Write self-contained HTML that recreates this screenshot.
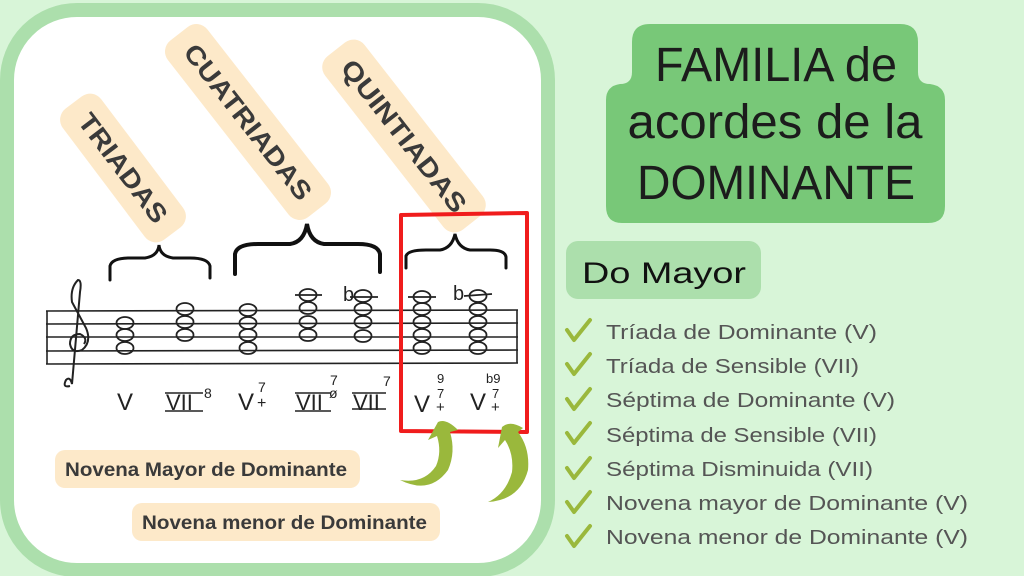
<!DOCTYPE html>
<html><head><meta charset="utf-8"><style>
html,body{margin:0;padding:0;background:#d8f5d8;}
svg{display:block}
</style></head><body>
<svg width="1024" height="576" viewBox="0 0 1024 576" xmlns="http://www.w3.org/2000/svg">
<rect width="1024" height="576" fill="#d8f5d8"/>
<!-- panel -->
<rect x="7" y="10" width="541" height="560" rx="70" fill="#ffffff" stroke="#acdfac" stroke-width="14"/>

<!-- rotated tags -->
<g font-family="Liberation Sans, sans-serif" font-weight="bold" fill="#333" text-anchor="middle">
 <g transform="translate(123,168) rotate(53)">
  <rect x="-82" y="-24" width="164" height="48" rx="14" fill="#fde9c9"/>
  <text x="0" y="9" font-size="26" textLength="130" lengthAdjust="spacingAndGlyphs" fill="#3a3a3a">TRIADAS</text>
 </g>
 <g transform="translate(248,122) rotate(52)">
  <rect x="-112" y="-25" width="224" height="50" rx="14" fill="#fde9c9"/>
  <text x="0" y="9" font-size="26" textLength="190" lengthAdjust="spacingAndGlyphs" fill="#3a3a3a">CUATRIADAS</text>
 </g>
 <g transform="translate(404,136) rotate(52)">
  <rect x="-110" y="-25" width="220" height="50" rx="14" fill="#fde9c9"/>
  <text x="0" y="9" font-size="26" textLength="186" lengthAdjust="spacingAndGlyphs" fill="#3a3a3a">QUINTIADAS</text>
 </g>
</g>

<!-- braces -->
<g fill="none" stroke="#111" stroke-linecap="round">
 <path d="M110,280 L110,266 Q112,258 130,258 L145,258 Q158,256 159,245 Q160,256 173,258 L190,258 Q208,258 210,266 L210,278" stroke-width="3"/>
 <path d="M235,274 L235,254 Q237,244 258,244 L290,244 Q304,242 307,224 Q310,242 324,244 L358,244 Q378,244 380,254 L380,272" stroke-width="4"/>
 <path d="M406,268 L406,256 Q408,250 426,250 L440,250 Q452,248 455,234 Q458,248 470,250 L490,250 Q505,250 506,257 L506,268" stroke-width="3"/>
</g>

<!-- staff -->
<g stroke="#222" stroke-width="1.6">
 <line x1="46" y1="311" x2="518" y2="310"/>
 <line x1="46" y1="324" x2="518" y2="323"/>
 <line x1="46" y1="337" x2="518" y2="337"/>
 <line x1="46" y1="351" x2="518" y2="350"/>
 <line x1="46" y1="364" x2="518" y2="363"/>
 <line x1="47" y1="311" x2="47" y2="364"/>
 <line x1="517" y1="310" x2="517" y2="363"/>
</g>
<!-- treble clef -->
<path d="M70,386 Q62,388 66,380 Q70,376 72,384 L80,292 Q82,280 78,280 Q70,288 72,302 L86,328 Q92,342 82,350 Q72,354 70,344 Q70,334 80,334 Q88,338 84,344" fill="none" stroke="#222" stroke-width="2"/>

<!-- notes -->
<g fill="none" stroke="#222" stroke-width="1.8">
 <ellipse cx="125" cy="323" rx="8.5" ry="6"/><ellipse cx="125" cy="335" rx="8.5" ry="6"/><ellipse cx="125" cy="348" rx="8.5" ry="6"/>
 <ellipse cx="185" cy="309" rx="8.5" ry="6"/><ellipse cx="185" cy="322" rx="8.5" ry="6"/><ellipse cx="185" cy="335" rx="8.5" ry="6"/>
 <ellipse cx="248" cy="310" rx="8.5" ry="6"/><ellipse cx="248" cy="323" rx="8.5" ry="6"/><ellipse cx="248" cy="335" rx="8.5" ry="6"/><ellipse cx="248" cy="348" rx="8.5" ry="6"/>
 <ellipse cx="308" cy="295" rx="8.5" ry="6"/><ellipse cx="308" cy="308" rx="8.5" ry="6"/><ellipse cx="308" cy="322" rx="8.5" ry="6"/><ellipse cx="308" cy="335" rx="8.5" ry="6"/>
 <line x1="295" y1="295" x2="322" y2="295"/>
 <ellipse cx="363" cy="296" rx="8.5" ry="6"/><ellipse cx="363" cy="309" rx="8.5" ry="6"/><ellipse cx="363" cy="322" rx="8.5" ry="6"/><ellipse cx="363" cy="336" rx="8.5" ry="6"/>
 <line x1="350" y1="297" x2="378" y2="297"/>
 <ellipse cx="422" cy="297" rx="8.5" ry="6"/><ellipse cx="422" cy="309" rx="8.5" ry="6"/><ellipse cx="422" cy="322" rx="8.5" ry="6"/><ellipse cx="422" cy="335" rx="8.5" ry="6"/><ellipse cx="422" cy="348" rx="8.5" ry="6"/>
 <line x1="408" y1="297" x2="436" y2="297"/>
 <ellipse cx="478" cy="296" rx="8.5" ry="6"/><ellipse cx="478" cy="309" rx="8.5" ry="6"/><ellipse cx="478" cy="322" rx="8.5" ry="6"/><ellipse cx="478" cy="335" rx="8.5" ry="6"/><ellipse cx="478" cy="348" rx="8.5" ry="6"/>
 <line x1="464" y1="296" x2="492" y2="294"/>
</g>
<g font-family="Liberation Sans, sans-serif" fill="#222">
 <text x="343" y="301" font-size="20">b</text>
 <text x="453" y="300" font-size="20">b</text>
 <text x="125" y="410" font-size="24" text-anchor="middle">V</text>
 <text x="166" y="410" font-size="22">VII</text><line x1="165" y1="411" x2="203" y2="411" stroke="#222" stroke-width="1.5"/><line x1="165" y1="393" x2="203" y2="393" stroke="#222" stroke-width="1.5"/>
 <text x="204" y="398" font-size="14">8</text>
 <text x="238" y="410" font-size="24">V</text><text x="258" y="392" font-size="14">7</text><text x="257" y="408" font-size="16">+</text>
 <text x="296" y="410" font-size="22">VII</text><line x1="295" y1="411" x2="331" y2="411" stroke="#222" stroke-width="1.5"/><line x1="295" y1="393" x2="331" y2="393" stroke="#222" stroke-width="1.5"/>
 <text x="330" y="385" font-size="14">7</text><text x="329" y="398" font-size="14">ø</text>
 <text x="353" y="410" font-size="22">VII</text><line x1="352" y1="409" x2="386" y2="409" stroke="#222" stroke-width="1.5"/><line x1="352" y1="393" x2="386" y2="393" stroke="#222" stroke-width="1.5"/>
 <text x="383" y="386" font-size="14">7</text>
 <text x="414" y="412" font-size="24">V</text><text x="437" y="383" font-size="13">9</text><text x="437" y="398" font-size="13">7</text><text x="436" y="412" font-size="15">+</text>
 <text x="470" y="410" font-size="24">V</text><text x="486" y="383" font-size="13">b9</text><text x="492" y="398" font-size="13">7</text><text x="491" y="412" font-size="15">+</text>
</g>

<!-- red box -->
<path d="M401,215 L527,213 L527,432 L401,431 Z" fill="none" stroke="#f01c1c" stroke-width="4" stroke-linejoin="round"/>

<!-- bottom tags -->
<rect x="55" y="450" width="305" height="38" rx="10" fill="#fde9c9"/>
<text x="65" y="476" font-family="Liberation Sans, sans-serif" font-weight="bold" font-size="19" fill="#3a3a3a" textLength="282" lengthAdjust="spacingAndGlyphs">Novena Mayor de Dominante</text>
<rect x="132" y="503" width="308" height="38" rx="10" fill="#fde9c9"/>
<text x="142" y="529" font-family="Liberation Sans, sans-serif" font-weight="bold" font-size="19" fill="#3a3a3a" textLength="285" lengthAdjust="spacingAndGlyphs">Novena menor de Dominante</text>

<!-- green arrows -->
<g fill="#9ab83c">
 <path d="M400,480 Q430,495 448,470 Q456,452 450,432 L458,430 Q446,418 438,422 L428,440 L437,436 Q442,452 436,466 Q424,484 400,480 Z"/>
 <path d="M488,502 Q520,500 528,470 Q530,448 518,432 L523,428 Q510,420 502,427 L498,448 L505,440 Q514,454 512,472 Q506,494 488,502 Z"/>
</g>

<!-- title box -->
<path d="M650,24 L900,24 Q918,24 918,42 L918,72 Q918,84 930,84 Q945,86 945,100 L945,206 Q945,223 928,223 L622,223 Q606,223 606,206 L606,100 Q606,86 620,84 Q632,84 632,72 L632,42 Q632,24 650,24 Z" fill="#78c878"/>
<g font-family="Liberation Sans, sans-serif" fill="#1c1c1c" text-anchor="middle">
 <text x="776" y="81" font-size="48" textLength="242" lengthAdjust="spacingAndGlyphs">FAMILIA de</text>
 <text x="775" y="138" font-size="48" textLength="295" lengthAdjust="spacingAndGlyphs">acordes de la</text>
 <text x="776" y="199" font-size="48" textLength="278" lengthAdjust="spacingAndGlyphs">DOMINANTE</text>
</g>
<rect x="566" y="241" width="195" height="58" rx="12" fill="#acdfac"/>
<text x="582" y="283" font-family="Liberation Sans, sans-serif" font-size="30" fill="#111" textLength="164" lengthAdjust="spacingAndGlyphs">Do Mayor</text>

<!-- list -->
<g fill="none" stroke="#9ab83c" stroke-width="4" stroke-linecap="round" stroke-linejoin="round">
 <path d="M567,330 L574,340 L590,320"/>
 <path d="M567,364 L574,374 L590,354"/>
 <path d="M567,399 L574,409 L590,389"/>
 <path d="M567,433 L574,443 L590,423"/>
 <path d="M567,468 L574,478 L590,458"/>
 <path d="M567,502 L574,512 L590,492"/>
 <path d="M567,536 L574,546 L590,526"/>
</g>
<g font-family="Liberation Sans, sans-serif" font-size="20" fill="#555" lengthAdjust="spacingAndGlyphs">
 <text x="606" y="339" textLength="271" lengthAdjust="spacingAndGlyphs">Tríada de Dominante (V)</text>
 <text x="606" y="373" textLength="253" lengthAdjust="spacingAndGlyphs">Tríada de Sensible (VII)</text>
 <text x="606" y="407" textLength="289" lengthAdjust="spacingAndGlyphs">Séptima de Dominante (V)</text>
 <text x="606" y="442" textLength="271" lengthAdjust="spacingAndGlyphs">Séptima de Sensible (VII)</text>
 <text x="606" y="476" textLength="267" lengthAdjust="spacingAndGlyphs">Séptima Disminuida (VII)</text>
 <text x="606" y="510" textLength="362" lengthAdjust="spacingAndGlyphs">Novena mayor de Dominante (V)</text>
 <text x="606" y="544" textLength="362" lengthAdjust="spacingAndGlyphs">Novena menor de Dominante (V)</text>
</g>
</svg>
</body></html>
